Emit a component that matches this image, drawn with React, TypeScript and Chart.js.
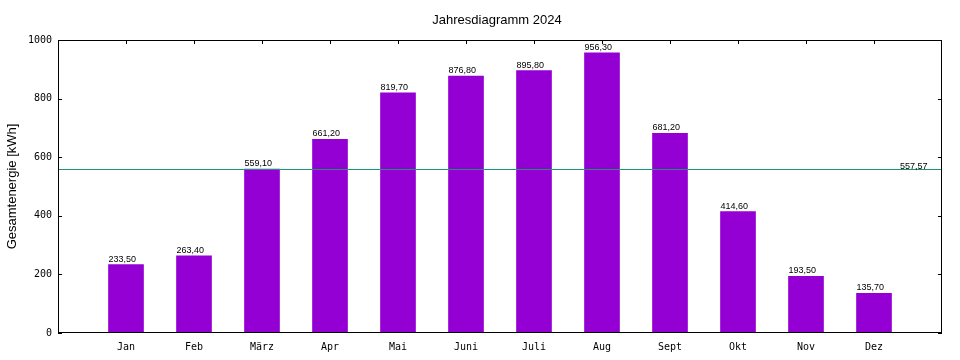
import React, { useEffect, useRef } from "react";
import { Chart, registerables } from "chart.js";

Chart.register(...registerables);

const months = ["Jan", "Feb", "März", "Apr", "Mai", "Juni", "Juli", "Aug", "Sept", "Okt", "Nov", "Dez"];
const energy = [233.5, 263.4, 559.1, 661.2, 819.7, 876.8, 895.8, 956.3, 681.2, 414.6, 193.5, 135.7];
const average = 557.57;
const yTicks = [0, 200, 400, 600, 800, 1000];
const title = "Jahresdiagramm 2024";
const yTitle = "Gesamtenergie [kWh]";

const fmt = (v: number) => v.toFixed(2).replace(".", ",");

const TL = 4;

const gnuplotPlugin = {
  id: "gnuplotDecor",
  beforeDatasetsDraw(chart: any) {
    const { ctx, chartArea: a, scales } = chart;
    const xs = scales.x;
    ctx.save();
    ctx.strokeStyle = "#000";
    ctx.lineWidth = 1;
    ctx.beginPath();
    months.forEach((_, i) => {
      const x = Math.round(xs.getPixelForValue(i + 1)) + 0.5;
      ctx.moveTo(x, a.bottom);
      ctx.lineTo(x, a.bottom - TL);
    });
    ctx.stroke();
    ctx.restore();
  },
  afterDatasetsDraw(chart: any) {
    const { ctx, chartArea: a, scales } = chart;
    const xs = scales.x;
    const ys = scales.y;
    ctx.save();

    // average line
    const ay = Math.round(ys.getPixelForValue(average)) - 0.5;
    ctx.strokeStyle = "#1f9475";
    ctx.lineWidth = 1;
    ctx.beginPath();
    ctx.moveTo(a.left, ay);
    ctx.lineTo(a.right, ay);
    ctx.stroke();

    // value labels
    ctx.fillStyle = "#000";
    ctx.font = "9px 'Liberation Sans', Arial, sans-serif";
    ctx.textAlign = "left";
    ctx.textBaseline = "alphabetic";
    const meta = chart.getDatasetMeta(0);
    meta.data.forEach((bar: any, i: number) => {
      const left = bar.x - bar.width / 2;
      ctx.fillText(fmt(energy[i]), left, bar.y - 3);
    });
    ctx.fillText(fmt(average), 900, ay - 1);

    // border
    ctx.strokeStyle = "#000";
    ctx.lineWidth = 1;
    ctx.strokeRect(a.left + 0.5, a.top + 0.5, a.right - a.left - 1, a.bottom - a.top - 1);

    // ticks
    ctx.beginPath();
    yTicks.forEach((t) => {
      const y = Math.round(ys.getPixelForValue(t)) + 0.5;
      ctx.moveTo(a.left, y);
      ctx.lineTo(a.left + TL, y);
      ctx.moveTo(a.right, y);
      ctx.lineTo(a.right - TL, y);
    });
    months.forEach((_, i) => {
      const x = Math.round(xs.getPixelForValue(i + 1)) + 0.5;
      ctx.moveTo(x, a.top);
      ctx.lineTo(x, a.top + TL);
    });
    ctx.stroke();

    // tick labels
    ctx.font = "10px 'DejaVu Sans Mono', monospace";
    ctx.fillStyle = "#000";
    ctx.textAlign = "right";
    ctx.textBaseline = "middle";
    yTicks.forEach((t) => {
      ctx.fillText(String(t), a.left - 6, ys.getPixelForValue(t));
    });
    ctx.textAlign = "center";
    months.forEach((m, i) => {
      ctx.fillText(m, xs.getPixelForValue(i + 1), a.bottom + 14);
    });

    // title
    ctx.font = "13px 'Liberation Sans', Arial, sans-serif";
    ctx.textAlign = "center";
    ctx.textBaseline = "alphabetic";
    ctx.fillText(title, 497, 24);

    // y axis title
    ctx.translate(16, (a.top + a.bottom) / 2);
    ctx.rotate(-Math.PI / 2);
    ctx.textAlign = "center";
    ctx.fillText(yTitle, 0, 0);

    ctx.restore();
  },
};

export default function App() {
  const ref = useRef<HTMLCanvasElement | null>(null);
  useEffect(() => {
    document.body.style.margin = "0";
    const chart = new Chart(ref.current as HTMLCanvasElement, {
      type: "bar",
      data: {
        datasets: [
          {
            data: energy.map((v, i) => ({ x: i + 1, y: v })),
            backgroundColor: "#9400d3",
            borderWidth: 0,
            barThickness: 35,
          },
        ],
      },
      options: {
        animation: false,
        responsive: false,
        maintainAspectRatio: false,
        layout: { padding: { left: 58, right: 18, top: 40, bottom: 27 } },
        plugins: { legend: { display: false }, tooltip: { enabled: false }, title: { display: false } },
        scales: {
          x: { type: "linear", min: 0, max: 13, display: false, offset: false },
          y: { type: "linear", min: 0, max: 1000, display: false },
        },
      },
      plugins: [gnuplotPlugin],
    });
    return () => chart.destroy();
  }, []);
  return (
    <div style={{ position: "absolute", left: 0, top: 0, width: 960, height: 360, background: "#fff" }}>
      <canvas ref={ref} width={960} height={360} style={{ width: 960, height: 360 }} />
    </div>
  );
}
